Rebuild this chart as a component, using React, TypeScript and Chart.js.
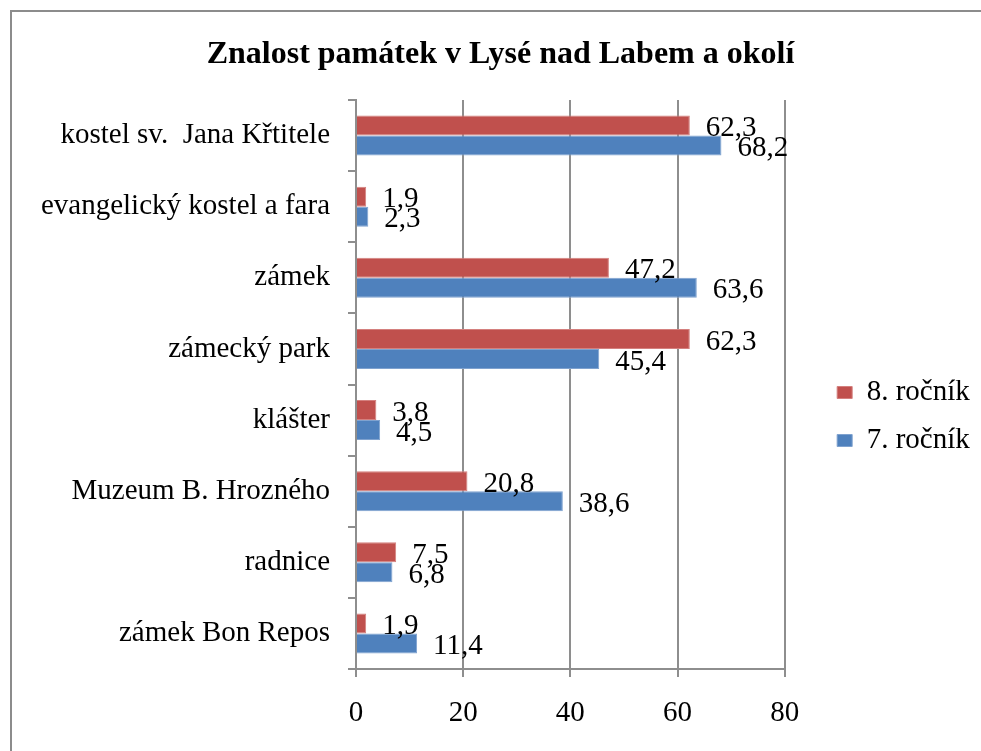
import React, { useEffect, useRef } from "react";
import { Chart, registerables } from "chart.js";

Chart.register(...registerables);

const categories = [
  "kostel sv.  Jana Křtitele",
  "evangelický kostel a fara",
  "zámek",
  "zámecký park",
  "klášter",
  "Muzeum B. Hrozného",
  "radnice",
  "zámek Bon Repos",
];
const seriesNames = ["8. ročník", "7. ročník"];
const grade8 = [62.3, 1.9, 47.2, 62.3, 3.8, 20.8, 7.5, 1.9];
const grade7 = [68.2, 2.3, 63.6, 45.4, 4.5, 38.6, 6.8, 11.4];
const xMin = 0;
const xMax = 80;
const xStep = 20;
const titleText = "Znalost památek v Lysé nad Labem a okolí";

const FONT = "'Liberation Serif', 'Times New Roman', serif";
const GRID = "#8e8e8e";

const valueLabels = {
  id: "valueLabels",
  afterDatasetsDraw(chart: any) {
    const ctx = chart.ctx;
    ctx.save();
    ctx.font = `29px ${FONT}`;
    ctx.fillStyle = "#000";
    ctx.textAlign = "left";
    ctx.textBaseline = "middle";
    chart.data.datasets.forEach((ds: any, i: number) => {
      const meta = chart.getDatasetMeta(i);
      meta.data.forEach((el: any, j: number) => {
        const v = ds.data[j] as number;
        ctx.fillText(v.toFixed(1).replace(".", ","), el.x + 16, el.y + 3);
      });
    });
    ctx.restore();
  },
};

export default function App() {
  const ref = useRef<HTMLCanvasElement | null>(null);

  useEffect(() => {
    if (!ref.current) return;
    const chart = new Chart(ref.current, {
      type: "bar",
      data: {
        labels: categories,
        datasets: [
          {
            label: seriesNames[0],
            data: grade8,
            backgroundColor: "#C0504D",
            borderColor: "#d4807e",
            borderWidth: 1,
            categoryPercentage: 0.5625,
            barPercentage: 1,
          },
          {
            label: seriesNames[1],
            data: grade7,
            backgroundColor: "#4F81BD",
            borderColor: "#7fa2cf",
            borderWidth: 1,
            categoryPercentage: 0.5625,
            barPercentage: 1,
          },
        ],
      },
      plugins: [valueLabels],
      options: {
        indexAxis: "y",
        animation: false,
        responsive: false,
        devicePixelRatio: 1,
        layout: { padding: { left: 24, right: 4, top: 0, bottom: 0 } },
        plugins: {
          title: {
            display: true,
            text: titleText,
            color: "#000",
            font: { family: FONT, size: 32, weight: "bold" },
            padding: { top: 35.8, bottom: 25.8 },
          },
          legend: {
            display: true,
            position: "right",
            labels: {
              color: "#000",
              font: { family: FONT, size: 29 },
              boxWidth: 15,
              boxHeight: 12,
              padding: 19,
            },
            title: {
              display: true,
              text: " ",
              font: { size: 10 },
              padding: { top: 70, bottom: 0 },
            },
          },
          tooltip: { enabled: false },
        },
        scales: {
          x: {
            type: "linear",
            min: xMin,
            max: xMax,
            ticks: {
              stepSize: xStep,
              color: "#000",
              font: { family: FONT, size: 29 },
              padding: 18.6,
            },
            grid: {
              color: GRID,
              lineWidth: 2,
              tickLength: 8,
              drawTicks: true,
            },
            border: { display: true, color: GRID, width: 2 },
            afterFit: (s: any) => {
              s.height = 82;
            },
          },
          y: {
            type: "category",
            position: "left",
            ticks: {
              color: "#000",
              font: { family: FONT, size: 29 },
              padding: 18,
            },
            grid: {
              display: true,
              drawOnChartArea: false,
              drawTicks: true,
              tickLength: 8,
              color: GRID,
              lineWidth: 2,
            },
            border: { display: true, color: GRID, width: 2 },
            afterFit: (s: any) => {
              s.width = 332;
            },
          },
          yR: {
            type: "linear",
            position: "right",
            display: true,
            grid: { display: false },
            ticks: { display: false },
            border: { display: false },
            afterFit: (s: any) => {
              s.width = 33.5;
            },
          },
        },
      } as any,
    });
    return () => chart.destroy();
  }, []);

  return (
    <div
      style={{
        position: "absolute",
        left: 0,
        top: 0,
        width: 981,
        height: 751,
        overflow: "hidden",
        background: "#fff",
      }}
    >
      <div
        style={{
          position: "absolute",
          left: 10,
          top: 10,
          width: 1000,
          height: 1000,
          border: "2px solid #8c8c8c",
        }}
      />
      <canvas
        ref={ref}
        width={981}
        height={751}
        style={{ position: "absolute", left: 0, top: 0, width: 981, height: 751 }}
      />
    </div>
  );
}
